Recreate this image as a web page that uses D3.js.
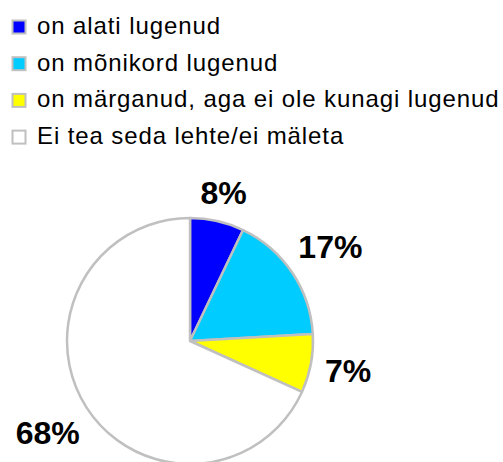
<!DOCTYPE html>
<html>
<head>
<meta charset="utf-8">
<script src="https://cdn.jsdelivr.net/npm/d3@7"></script>
<style>
    body { margin: 0; background: #fff; }
    text { font-family: "Liberation Sans", Arial, sans-serif; }
</style>
</head>
<body>
<div id="chart"></div>
<script>
const width = 503;
const height = 462;

// data
const categories = [
    "on alati lugenud",
    "on mõnikord lugenud",
    "on märganud, aga ei ole kunagi lugenud",
    "Ei tea seda lehte/ei mäleta"
];
const shares = [7.1, 17.0, 7.7, 68.2];
const shareLabels = ["8%", "17%", "7%", "68%"];
const colors = ["#0000ff", "#00ccff", "#ffff00", "#ffffff"];

const radius = 123;
const cx = 190, cy = 341;
const labelGap = 136;

const svg = d3.select("#chart")
    .append("svg")
    .attr("width", width)
    .attr("height", height);

// legend
let legend = svg.selectAll(".legend")
    .data(categories)
    .enter().append("g")
    .attr("class", "legend")
    .attr("transform", function (d, i) {
        return "translate(12," + (34 + i * 36.7) + ")";
    });

legend.append("rect")
    .attr("x", 0.5)
    .attr("y", -13.5)
    .attr("width", 13)
    .attr("height", 13)
    .style("fill", function (d, i) { return colors[i]; })
    .style("stroke", "#c0c0c0")
    .style("stroke-width", 2);

legend.append("text")
    .attr("x", 25)
    .attr("y", 0)
    .style("font-size", "24px")
    .style("letter-spacing", "0.9px")
    .style("fill", "#000")
    .text(function (d) { return d; });

// pie
const pie = d3.pie().sort(null).value(function (d) { return d; });
const arc = d3.arc().innerRadius(0).outerRadius(radius);
const arcs = pie(shares);

const g = svg.append("g")
    .attr("transform", "translate(" + cx + "," + cy + ")");

g.selectAll("path")
    .data(arcs)
    .enter().append("path")
    .attr("d", arc)
    .style("fill", function (d, i) { return colors[i]; })
    .style("stroke", "#c0c0c0")
    .style("stroke-width", 2.5)
    .style("stroke-linejoin", "round");

// labels outside the pie
g.selectAll(".lbl")
    .data(arcs)
    .enter().append("text")
    .attr("class", "lbl")
    .style("font-size", "32px")
    .style("font-weight", "bold")
    .style("fill", "#000")
    .attr("text-anchor", "middle")
    .text(function (d, i) { return shareLabels[i]; })
    .each(function (d) {
        let w = this.getComputedTextLength();
        let h = 23;
        let a = (d.startAngle + d.endAngle) / 2;
        let s = Math.sin(a), c = Math.cos(a);
        let dist = labelGap + w / 2 * Math.abs(s) + h / 2 * Math.abs(c);
        d3.select(this)
            .attr("x", dist * s)
            .attr("y", -dist * c + h / 2);
    });
</script>
</body>
</html>
